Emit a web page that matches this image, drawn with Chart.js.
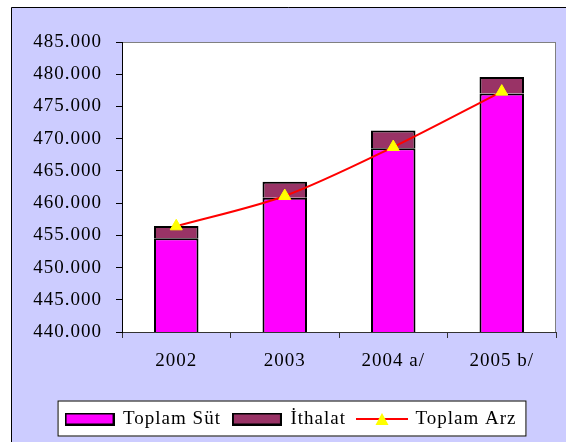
<!DOCTYPE html>
<html><head><meta charset="utf-8">
<script src="https://cdn.jsdelivr.net/npm/chart.js@4/dist/chart.umd.min.js"></script>
<style>html,body{margin:0;padding:0;background:#fff}canvas{display:block}</style>
</head><body>
<canvas id="c" width="566" height="442"></canvas>
<script>
const categories = ['2002', '2003', '2004 a/', '2005 b/'];
const toplamSut = [454.55, 460.85, 468.50, 477.00];
const ithalat = [1.90, 2.45, 2.75, 2.55];
const toplamArz = [456.40, 461.10, 468.70, 477.30];
const yMin = 440, yMax = 485, yStep = 5;
const seriesNames = ['Toplam Süt', 'İthalat', 'Toplam Arz'];

const LS = '1px';
const FONT = "'Liberation Serif', 'Times New Roman', serif";

function barIcon(fill) {
  const c = document.createElement('canvas');
  c.width = 50; c.height = 13;
  const g = c.getContext('2d');
  g.fillStyle = fill; g.fillRect(1, 1, 48, 11);
  g.strokeStyle = '#000'; g.lineWidth = 2; g.strokeRect(1, 1, 48, 11);
  return c;
}
function lineIcon() {
  const c = document.createElement('canvas');
  c.width = 52; c.height = 14;
  const g = c.getContext('2d');
  g.strokeStyle = '#FF0000'; g.lineWidth = 2;
  g.beginPath(); g.moveTo(0, 7); g.lineTo(52, 7); g.stroke();
  g.fillStyle = '#FFFF00';
  g.beginPath(); g.moveTo(26, 1); g.lineTo(32.5, 13); g.lineTo(19.5, 13); g.closePath(); g.fill();
  return c;
}
const icons = [barIcon('#FF00FF'), barIcon('#993366'), lineIcon()];

const bgPlugin = {
  id: 'bg',
  beforeUpdate(chart) { chart.ctx.letterSpacing = LS; },
  beforeLayout(chart) { chart.ctx.letterSpacing = LS; },
  beforeDraw(chart) {
    const ctx = chart.ctx;
    const {width, height, chartArea: a} = chart;
    ctx.save();
    ctx.fillStyle = '#fff'; ctx.fillRect(0, 0, width, height);
    ctx.fillStyle = '#CCCCFF'; ctx.fillRect(11, 7, width - 11, height - 7);
    ctx.strokeStyle = '#000'; ctx.lineWidth = 1;
    ctx.beginPath(); ctx.moveTo(11.5, height); ctx.lineTo(11.5, 7.5); ctx.lineTo(width, 7.5); ctx.stroke();
    ctx.fillStyle = '#fff'; ctx.fillRect(a.left, a.top, a.right - a.left, a.bottom - a.top);
    ctx.strokeStyle = '#808080';
    ctx.strokeRect(a.left + 0.5, a.top + 0.5, a.right - a.left - 1, a.bottom - a.top);
    const hb = chart.legend && chart.legend.legendHitBoxes;
    if (hb && hb.length) {
      const last = hb[hb.length - 1];
      const l = hb[0].left - 8, r = last.left + last.width + 10;
      const t = hb[0].top - 9, b = hb[0].top + hb[0].height + 8;
      ctx.fillStyle = '#fff'; ctx.fillRect(l, t, r - l, b - t);
      ctx.strokeStyle = '#000'; ctx.strokeRect(l + 0.5, t + 0.5, r - l - 1, b - t - 1);
    }
    ctx.restore();
    ctx.letterSpacing = LS;
  }
};

Chart.defaults.font.family = FONT;
Chart.defaults.font.size = 19;
Chart.defaults.color = '#000';

new Chart(document.getElementById('c'), {
  type: 'bar',
  data: {
    labels: categories,
    datasets: [
      {
        type: 'bar', label: seriesNames[0], data: toplamSut,
        backgroundColor: '#FF00FF', borderColor: '#000', borderWidth: 2,
        stack: 'sut', order: 2, barPercentage: 0.41, categoryPercentage: 1
      },
      {
        type: 'bar', label: seriesNames[1], data: ithalat,
        backgroundColor: '#993366', borderColor: '#000', borderWidth: 2,
        stack: 'sut', order: 2, barPercentage: 0.41, categoryPercentage: 1
      },
      {
        type: 'line', label: seriesNames[2], data: toplamArz,
        borderColor: '#FF0000', borderWidth: 2, tension: 0.3, fill: false,
        pointStyle: 'triangle', pointRadius: 7, pointHoverRadius: 7,
        pointBackgroundColor: '#FFFF00', pointBorderColor: '#FFFF00', pointBorderWidth: 1,
        stack: 'arz', order: 0
      }
    ]
  },
  options: {
    responsive: false,
    animation: false,
    events: [],
    layout: { padding: { left: 26, right: 10, top: 42, bottom: 3.5 } },
    plugins: {
      tooltip: { enabled: false },
      legend: {
        position: 'bottom',
        labels: {
          usePointStyle: true, pointStyleWidth: 48, padding: 12,
          font: { size: 19, family: FONT }, color: '#000',
          sort: (a, b) => a.datasetIndex - b.datasetIndex,
          generateLabels: (chart) => Chart.defaults.plugins.legend.labels.generateLabels(chart)
            .map((l) => Object.assign(l, { pointStyle: icons[l.datasetIndex], rotation: 0 }))
        }
      }
    },
    scales: {
      x: {
        stacked: true,
        grid: { drawOnChartArea: false, drawTicks: true, tickLength: 6, color: '#333', offset: true },
        border: { color: '#333', width: 1 },
        ticks: { padding: 12, color: '#000', font: { size: 19, family: FONT } },
        afterFit: (s) => { s.height = 65.5; }
      },
      y: {
        stacked: true, min: yMin, max: yMax,
        grid: { drawOnChartArea: false, drawTicks: true, tickLength: 6, color: '#000' },
        border: { color: '#000', width: 1 },
        ticks: { stepSize: yStep, padding: 14, color: '#000', font: { size: 19, family: FONT },
          callback: (v) => Number(v).toFixed(3) },
        afterFit: (s) => { s.width = 96; }
      }
    }
  },
  plugins: [bgPlugin]
});
</script>
</body></html>
